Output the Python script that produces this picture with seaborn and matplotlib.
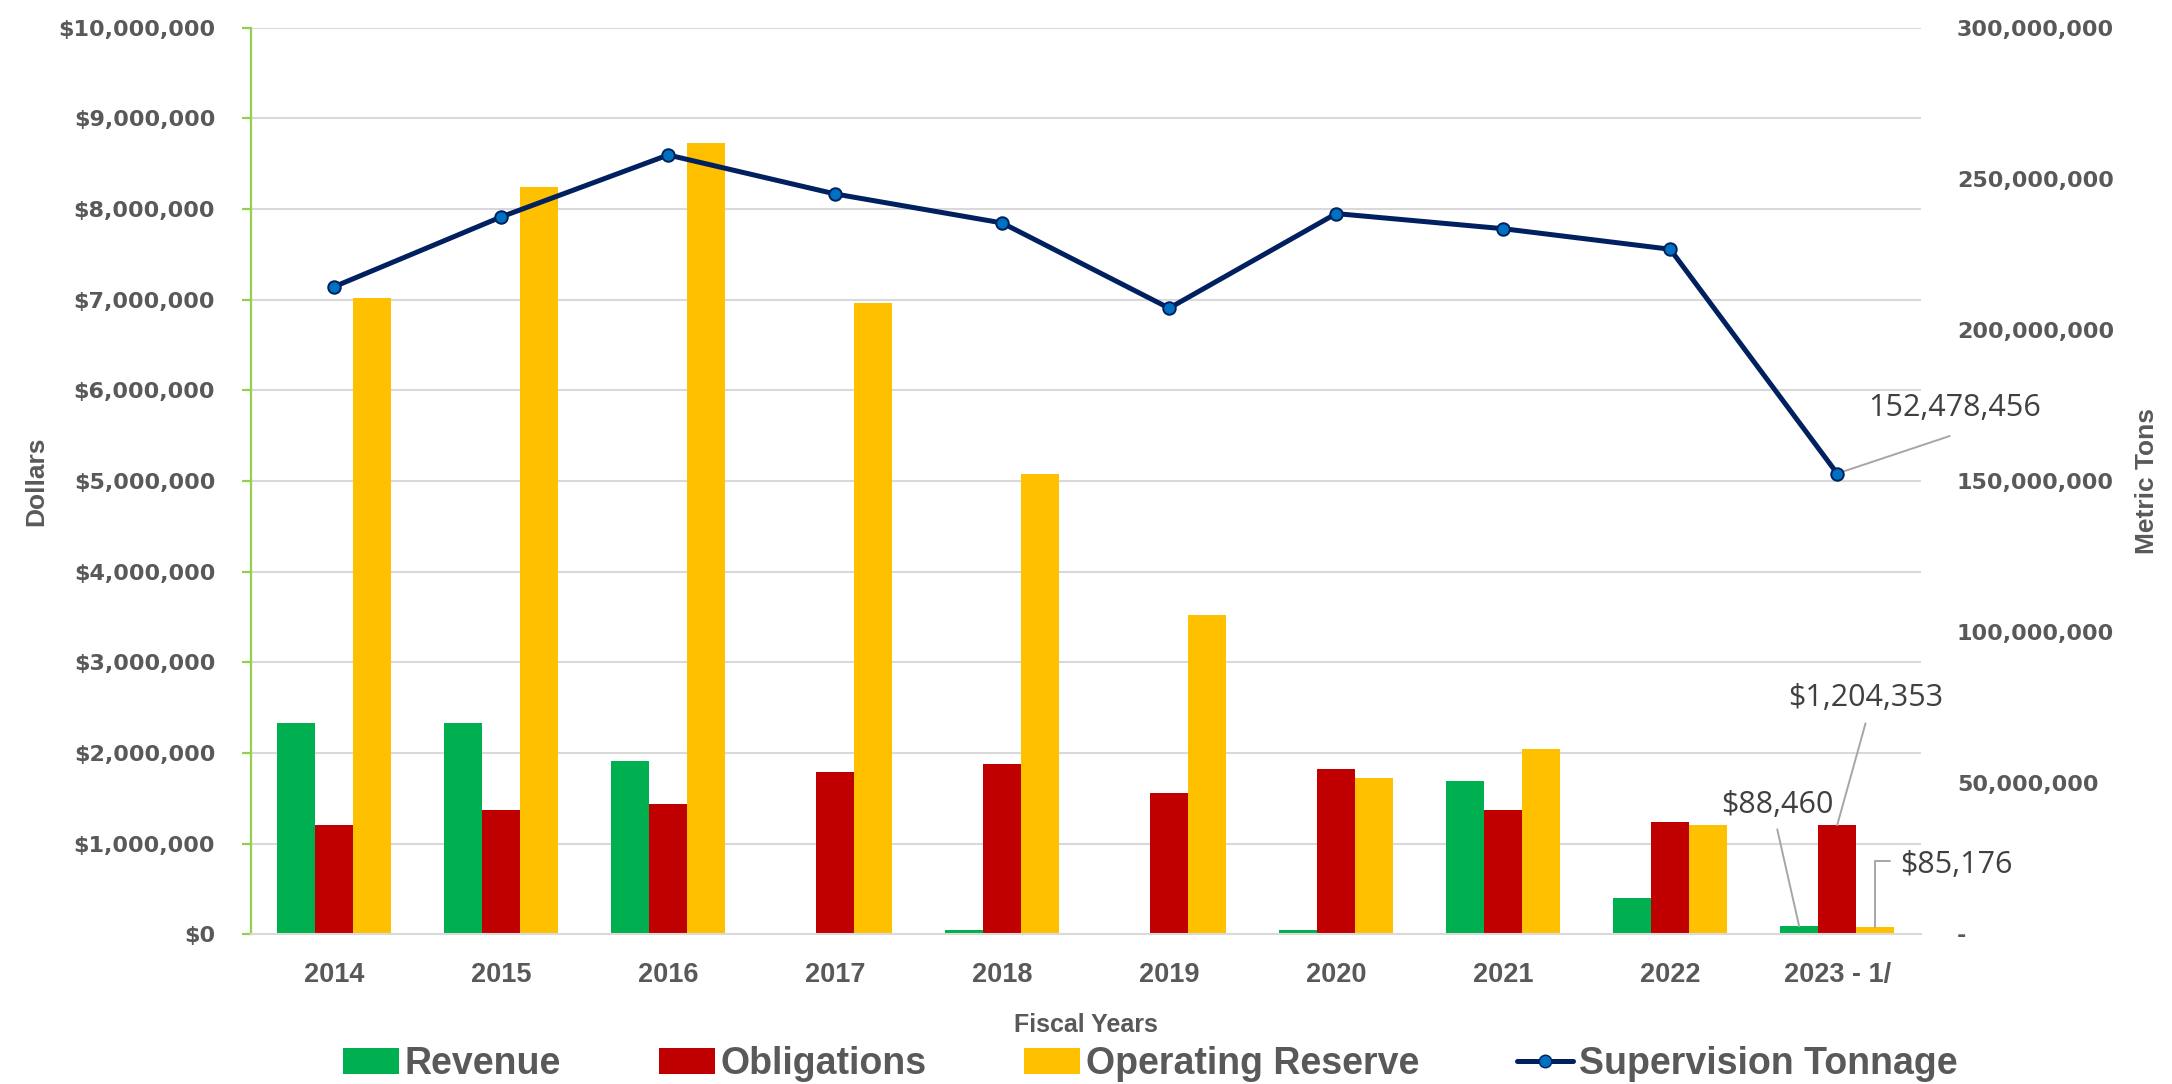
import numpy as np
import pandas as pd
import matplotlib
matplotlib.use("Agg")
import matplotlib.pyplot as plt
from matplotlib.lines import Line2D
from matplotlib.patches import Patch
from matplotlib.ticker import FuncFormatter, MultipleLocator
import seaborn as sns

# ---- data -------------------------------------------------------------
years = ["2014", "2015", "2016", "2017", "2018", "2019", "2020", "2021", "2022", "2023 - 1/"]
revenue = [2335000, 2335000, 1915000, 0, 48000, 0, 48000, 1691000, 404000, 88460]
obligations = [1206000, 1368000, 1434000, 1787000, 1882000, 1562000, 1824000, 1371000, 1239000, 1204353]
operating_reserve = [7021000, 8242000, 8728000, 6960000, 5080000, 3520000, 1728000, 2048000, 1210000, 85176]
supervision_tonnage = [214300000, 237400000, 257900000, 245000000, 235400000,
                       207200000, 238500000, 233500000, 226700000, 152478456]

series_names = ["Revenue", "Obligations", "Operating Reserve"]
line_name = "Supervision Tonnage"

# ---- styling ----------------------------------------------------------
GREEN, RED, YELLOW = "#00B050", "#C00000", "#FFC000"
NAVY, BLUE = "#002060", "#0070C0"
AXIS_GREEN = "#92D050"
GRID = "#D9D9D9"
TXT = "#595959"
LABEL_TXT = "#404040"
BOLD_FONT = ["Liberation Sans", "DejaVu Sans"]
TICK_FONT = ["DejaVu Sans"]
NOTE_FONT = ["Open Sans", "Noto Sans", "DejaVu Sans"]

sns.set_style("white")
plt.rcParams["font.family"] = ["DejaVu Sans"]

df = pd.DataFrame({"Fiscal Year": years,
                   "Revenue": revenue,
                   "Obligations": obligations,
                   "Operating Reserve": operating_reserve})
long = df.melt(id_vars="Fiscal Year", var_name="Series", value_name="Dollars")

fig = plt.figure(figsize=(21.72, 10.84), dpi=100)
ax = fig.add_axes([0.1154, 0.1381, 0.7689, 0.8363])

sns.barplot(data=long, x="Fiscal Year", y="Dollars", hue="Series",
            hue_order=series_names, palette=[GREEN, RED, YELLOW],
            saturation=1, width=0.683, linewidth=0, legend=False, ax=ax)

ax.set_xlim(-0.5, len(years) - 0.5)
ax.set_ylim(0, 10_000_000)
ax.yaxis.set_major_locator(MultipleLocator(1_000_000))
ax.yaxis.set_major_formatter(FuncFormatter(lambda v, p: f"${v:,.0f}"))
ax.set_axisbelow(True)
ax.yaxis.grid(True, color=GRID, lw=1.5)
ax.xaxis.grid(False)

for s in ("top", "right"):
    ax.spines[s].set_visible(False)
ax.spines["left"].set_color(AXIS_GREEN)
ax.spines["left"].set_linewidth(1.6)
ax.spines["bottom"].set_color(GRID)
ax.spines["bottom"].set_linewidth(1.5)

ax.tick_params(axis="y", direction="out", length=6.5, width=1.6, color=AXIS_GREEN,
               pad=19, labelsize=16, labelcolor=TXT)
ax.tick_params(axis="x", length=0, pad=20, labelsize=19.5, labelcolor=TXT)
for t in ax.get_yticklabels():
    t.set_fontweight("bold")
    t.set_family(TICK_FONT)
for t in ax.get_xticklabels():
    t.set_fontweight("bold")
    t.set_family(BOLD_FONT)

ax.set_xlabel("Fiscal Years", fontsize=18, fontweight="bold", color=TXT, family=BOLD_FONT)
ax.set_ylabel("Dollars", fontsize=19, fontweight="bold", color=TXT, family=BOLD_FONT)
ax.xaxis.set_label_coords(0.5134, -0.100)
ax.yaxis.set_label_coords(-0.1286, 0.5)
ax.xaxis.label.set_va("center")
ax.yaxis.label.set_va("center")

# ---- tonnage line on the secondary axis -------------------------------
ax2 = ax.twinx()
positions = np.arange(len(years))
sns.lineplot(x=positions, y=supervision_tonnage, ax=ax2, color=NAVY, lw=3.6,
             marker="o", markersize=9, markerfacecolor=BLUE,
             markeredgecolor=NAVY, markeredgewidth=1.4, zorder=5)
ax2.set_ylim(0, 300_000_000)
ax2.yaxis.set_major_locator(MultipleLocator(50_000_000))
ax2.yaxis.set_major_formatter(FuncFormatter(lambda v, p: "-" if v == 0 else f"{v:,.0f}"))
ax2.tick_params(axis="y", length=0, pad=26, labelsize=16, labelcolor=TXT)
for t in ax2.get_yticklabels():
    t.set_fontweight("bold")
    t.set_family(TICK_FONT)
for s in ax2.spines.values():
    s.set_visible(False)
ax2.set_xlim(-0.5, len(years) - 0.5)
ax2.set_ylabel("Metric Tons", fontsize=19, fontweight="bold", color=TXT, family=BOLD_FONT)
ax2.yaxis.set_label_coords(1.1355, 0.5)
ax2.yaxis.label.set_va("center")
ax2.set_xlabel("")
ax.set_xlabel("Fiscal Years")

# ---- callouts ---------------------------------------------------------
lead = dict(arrowstyle="-", color="#A6A6A6", lw=1.4, shrinkA=0, shrinkB=0)
note = dict(fontsize=22, color=LABEL_TXT, family=NOTE_FONT, va="center")
last = len(years) - 1
bar_w = 0.683 / 3

# tonnage value
pt = (positions[last], supervision_tonnage[last])
ax2.annotate("", xy=pt, xytext=(81, 27), textcoords="offset points", arrowprops=lead)
ax2.annotate(f"{supervision_tonnage[last]:,.0f}", xy=pt, xytext=(84.6, 47.2),
             textcoords="offset points", ha="center", **note)

# obligations value
pt = (last, obligations[last])
ax.annotate("", xy=pt, xytext=(20.4, 73.3), textcoords="offset points", arrowprops=lead)
ax.annotate(f"${obligations[last]:,.0f}", xy=pt, xytext=(20.7, 91.5),
            textcoords="offset points", ha="center", **note)

# revenue value
pt = (last - bar_w, revenue[last])
ax.annotate("", xy=pt, xytext=(-15.8, 69.8), textcoords="offset points", arrowprops=lead)
ax.annotate(f"${revenue[last]:,.0f}", xy=pt, xytext=(-15.5, 87.3),
            textcoords="offset points", ha="center", **note)

# operating reserve value
pt = (last + bar_w, operating_reserve[last])
ax.annotate("", xy=pt, xytext=(10.9, 47.2), textcoords="offset points",
            arrowprops=dict(lead, connectionstyle="angle,angleA=0,angleB=90,rad=0"))
ax.annotate(f"${operating_reserve[last]:,.0f}", xy=pt, xytext=(18.1, 44.4),
            textcoords="offset points", ha="left", **note)

# ---- legend -----------------------------------------------------------
handles = [Patch(facecolor=GREEN, edgecolor="none", label=series_names[0]),
           Patch(facecolor=RED, edgecolor="none", label=series_names[1]),
           Patch(facecolor=YELLOW, edgecolor="none", label=series_names[2]),
           Line2D([], [], color=NAVY, lw=3.6, marker="o", markersize=9,
                  markerfacecolor=BLUE, markeredgecolor=NAVY, label=line_name)]
leg = fig.legend(handles=handles, loc="center", bbox_to_anchor=(0.5295, 0.0185),
                 ncol=4, frameon=False, handlelength=1.5, handleheight=0.7,
                 handletextpad=0.15, columnspacing=2.6,
                 prop={"family": BOLD_FONT, "weight": "bold", "size": 27})
for t in leg.get_texts():
    t.set_color(TXT)

fig.savefig("out.png", dpi=100)
